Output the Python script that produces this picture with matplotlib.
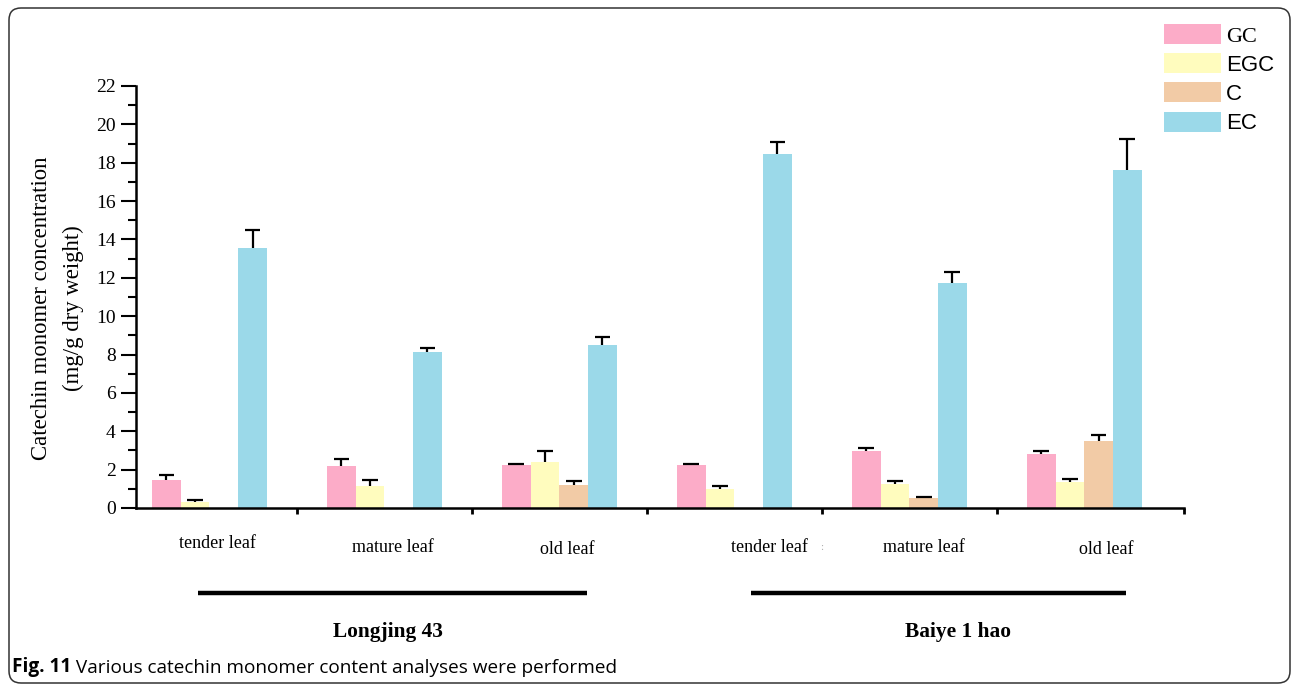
import numpy as np
import matplotlib
matplotlib.use("Agg")
import matplotlib.pyplot as plt
from matplotlib.patches import FancyBboxPatch, Patch
from matplotlib.transforms import blended_transform_factory, IdentityTransform

# catechin monomers (legend order)
compounds = ["GC", "EGC", "C", "EC"]
colors = ["#FCACC8", "#FFFCBE", "#F2CBA6", "#9BD9E9"]

# six sample columns: Longjing 43 (tender, mature, old), Baiye 1 hao (tender, mature, old)
leaf_labels = ["tender leaf", "mature leaf", "old leaf", "tender leaf", "mature leaf", "old leaf"]
cultivars = ["Longjing 43", "Baiye 1 hao"]

# mg/g dry weight
gc_mean = [1.48, 2.21, 2.25, 2.23, 2.98, 2.84]
gc_err = [0.22, 0.33, 0.04, 0.07, 0.16, 0.14]
egc_mean = [0.33, 1.13, 2.42, 1.01, 1.27, 1.36]
egc_err = [0.07, 0.35, 0.54, 0.16, 0.14, 0.14]
c_mean = [0.0, 0.0, 1.20, 0.0, 0.52, 3.50]
c_err = [0.0, 0.0, 0.19, 0.0, 0.07, 0.30]
ec_mean = [13.57, 8.12, 8.50, 18.47, 11.72, 17.63]
ec_err = [0.94, 0.23, 0.39, 0.59, 0.56, 1.62]

means = [gc_mean, egc_mean, c_mean, ec_mean]
errs = [gc_err, egc_err, c_err, ec_err]

SERIF = ["Liberation Serif", "DejaVu Serif"]
SANS = ["Liberation Sans", "DejaVu Sans"]

W, H = 1293, 687
fig = plt.figure(figsize=(W / 100, H / 100), dpi=100)
ax = fig.add_axes([136 / W, 1 - 508 / H, (1184 - 136) / W, (508 - 86) / H])

x = np.arange(len(leaf_labels)) + 0.5
width = 0.164
cap = 0.045
for k, (m, e, col) in enumerate(zip(means, errs, colors)):
    pos = x + (k - 1.5) * width
    m = np.array(m)
    e = np.array(e)
    ax.bar(pos, m, width, color=col, edgecolor="none", zorder=2)
    show = m > 0
    # one-sided (upper) error bars, T-shaped
    ax.vlines(pos[show], m[show], m[show] + e[show], color="black", lw=1.6, zorder=3)
    ax.hlines(m[show] + e[show], pos[show] - cap, pos[show] + cap, color="black",
              lw=1.6, zorder=3)

xmax = 6.07
ax.set_xlim(0.08, xmax)
ax.set_ylim(0, 22)
ax.set_yticks(np.arange(0, 23, 2))
ax.set_yticks(np.arange(0, 23, 1), minor=True)
ax.set_xticks(list(range(1, 6)) + [xmax])
ax.set_xticklabels([])
for s in ["top", "right"]:
    ax.spines[s].set_visible(False)
for s in ["left", "bottom"]:
    ax.spines[s].set_linewidth(1.8)
ax.tick_params(axis="y", which="major", direction="out", length=11, width=1.5,
               pad=3.5, labelsize=14)
ax.tick_params(axis="y", which="minor", direction="out", length=6, width=1.5)
ax.tick_params(axis="x", which="major", direction="out", length=4, width=2)
for lab in ax.get_yticklabels():
    lab.set_family(SERIF)

# leaf-stage labels under each column (positions follow the original layout)
trans = blended_transform_factory(ax.transData, fig.transFigure)
label_x = [0.543, 1.549, 2.543, 3.703, 4.583, 5.623]
label_y = [543, 548, 549, 547, 548, 549]
for lx, ly, txt in zip(label_x, label_y, leaf_labels):
    ax.text(lx, 1 - ly / H, txt, transform=trans, ha="center", va="center",
            fontsize=13, family=SERIF, clip_on=False)
ax.text(4.0, 1 - 548 / H, ":", transform=trans, ha="center", va="center",
        fontsize=8, color="#aaaaaa", family=SERIF, clip_on=False)

# cultivar brackets
line_spans = [(0.434, 2.657), (3.594, 5.737)]
group_x = [1.52, 4.777]
for (x0, x1), gx, name in zip(line_spans, group_x, cultivars):
    ax.plot([x0, x1], [1 - 593 / H] * 2, transform=trans, color="black",
            lw=3.2, solid_capstyle="butt", clip_on=False)
    ax.text(gx, 1 - 632 / H, name, transform=trans, ha="center", va="center",
            fontsize=15.4, fontweight="bold", family=SERIF, clip_on=False)

# y label (two lines)
fig.text(42 / W, 1 - 308 / H, "Catechin monomer concentration", rotation=90,
         ha="center", va="center", fontsize=16.4, family=SERIF)
fig.text(73 / W, 1 - 308 / H, "(mg/g dry weight)", rotation=90,
         ha="center", va="center", fontsize=16.4, family=SERIF)

# legend
handles = [Patch(facecolor=c, edgecolor="none") for c in colors]
leg = fig.legend(handles, compounds, loc="upper left",
                 bbox_to_anchor=(1164 / W, 1 - 24 / H), frameon=False,
                 handlelength=2.55, handleheight=1.0,
                 labelspacing=0.3, handletextpad=0.25, borderpad=0,
                 borderaxespad=0, prop={"family": SANS, "size": 16})
leg.get_texts()[0].set_family(SERIF)

# caption
cap_font = ["Open Sans", "DejaVu Sans"]
t1 = fig.text(12 / W, 1 - 667 / H, "Fig. 11", ha="left", va="center",
              fontsize=13.7, fontweight="bold", family=cap_font)
ax.annotate(" Various catechin monomer content analyses were performed",
            xy=(1, 0), xycoords=t1, ha="left", va="bottom", fontsize=13.7,
            family=cap_font, annotation_clip=False)

# rounded frame around the figure panel
frame = FancyBboxPatch((9, 4), 1281, 675, boxstyle="round,pad=0,rounding_size=12",
                       transform=IdentityTransform(), facecolor="none",
                       edgecolor="#333333", lw=1.1)
fig.patches.append(frame)

fig.savefig("out.png", dpi=100, facecolor="white")
